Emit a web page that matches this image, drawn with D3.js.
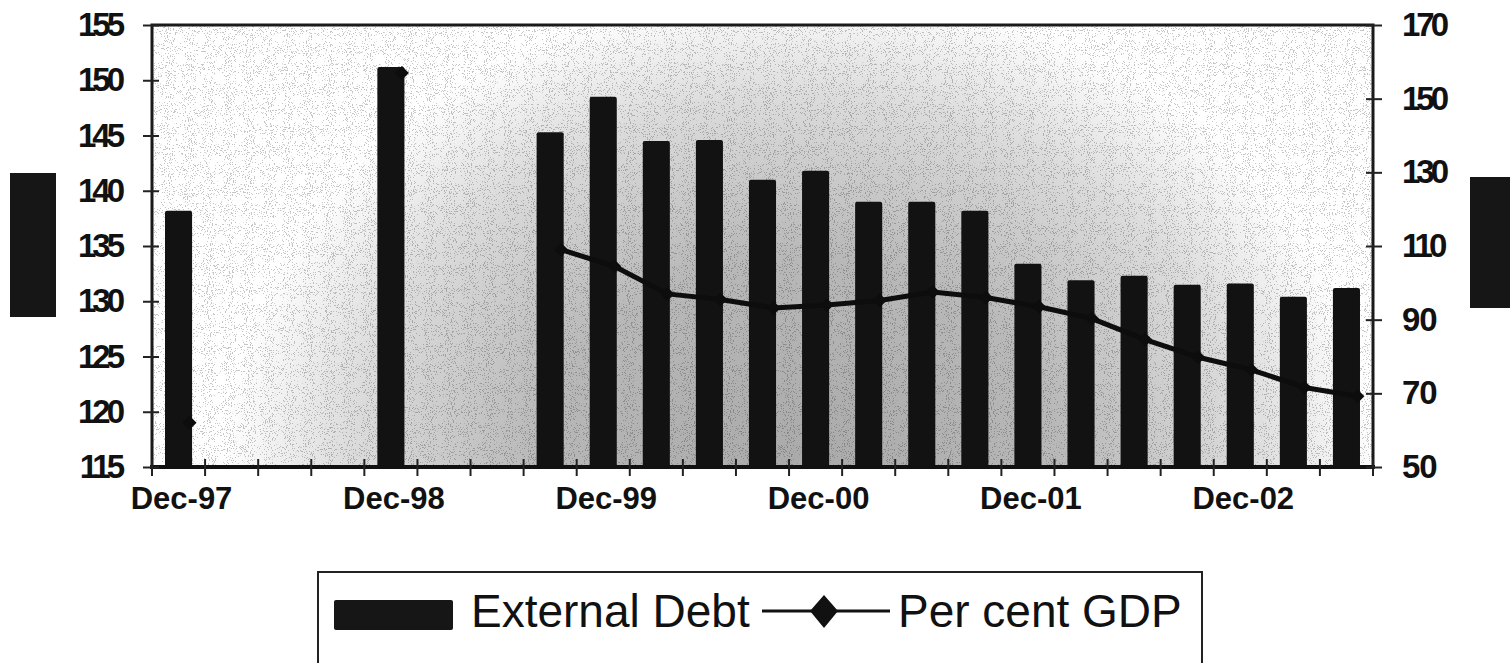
<!DOCTYPE html>
<html>
<head>
<meta charset="utf-8">
<script src="https://cdn.jsdelivr.net/npm/d3@7"></script>
<style>
  html, body { margin: 0; padding: 0; background: #ffffff; }
  svg { display: block; }
  text { font-family: "Liberation Sans", Arial, sans-serif; fill: #111; }
</style>
</head>
<body>
<svg id="chart" width="1510" height="663"></svg>
<script>
// ---- data ----
const categories = ["Dec-97","Mar-98","Jun-98","Sep-98","Dec-98","Mar-99","Jun-99","Sep-99","Dec-99",
  "Mar-00","Jun-00","Sep-00","Dec-00","Mar-01","Jun-01","Sep-01","Dec-01",
  "Mar-02","Jun-02","Sep-02","Dec-02","Mar-03","Jun-03"];
const externalDebt = [138.2, null, null, null, 151.2, null, null, 145.3, 148.5,
  144.5, 144.6, 141.0, 141.8, 139.0, 139.0, 138.2, 133.4,
  131.9, 132.3, 131.5, 131.6, 130.4, 131.2];
const perCentGDP = [62, null, null, null, 157, null, null, 109.0, 104.5,
  97.0, 95.5, 93.2, 94.0, 95.2, 97.5, 96.0, 93.5,
  90.3, 84.6, 79.8, 76.4, 71.6, 69.2];
const xTickLabels = ["Dec-97","Dec-98","Dec-99","Dec-00","Dec-01","Dec-02"];
const leftTicks = [115,120,125,130,135,140,145,150,155];
const rightTicks = [50,70,90,110,130,150,170];
const seriesNames = ["External Debt","Per cent GDP"];

// ---- layout ----
const svg = d3.select("#chart");
const L = 152, R = 1373, T = 25, B = 467;

const x = d3.scaleBand().domain(categories).range([L, R]).paddingInner(0.49).paddingOuter(0.245);
const yL = d3.scaleLinear().domain([115, 155]).range([B, T]);
const yR = d3.scaleLinear().domain([50, 170]).range([B, T]);
const step = x.step(), bw = x.bandwidth(), gap = (step - bw) / 2;

const defs = svg.append("defs");
const rg = defs.append("radialGradient").attr("id", "bg")
  .attr("gradientUnits", "userSpaceOnUse").attr("cx", 800).attr("cy", 480).attr("r", 580)
  .attr("gradientTransform", "translate(800,480) scale(1,0.85) translate(-800,-480)");
rg.append("stop").attr("offset", "0%").attr("stop-color", "#a9a9a9");
rg.append("stop").attr("offset", "45%").attr("stop-color", "#b8b8b8");
rg.append("stop").attr("offset", "78%").attr("stop-color", "#dcdcdc");
rg.append("stop").attr("offset", "100%").attr("stop-color", "#ffffff");

const f = defs.append("filter").attr("id", "noise").attr("x", 0).attr("y", 0).attr("width", "100%").attr("height", "100%");
f.append("feTurbulence").attr("type", "fractalNoise").attr("baseFrequency", 0.95).attr("numOctaves", 2).attr("seed", 4);
f.append("feColorMatrix").attr("type", "matrix")
  .attr("values", "0 0 0 0 0  0 0 0 0 0  0 0 0 0 0  -30 0 0 0 11.5");

// plot background
svg.append("rect").attr("x", L).attr("y", T).attr("width", R - L).attr("height", B - T).attr("fill", "url(#bg)");
svg.append("rect").attr("x", L).attr("y", T).attr("width", R - L).attr("height", B - T)
  .attr("filter", "url(#noise)").attr("opacity", 0.22);

// bars
svg.append("g").selectAll("rect").data(categories.map((c, i) => ({c, v: externalDebt[i]})).filter(d => d.v != null))
  .join("rect")
  .attr("x", d => x(d.c)).attr("y", d => yL(d.v))
  .attr("width", bw).attr("height", d => yL(115) - yL(d.v))
  .attr("rx", 2).attr("fill", "#121212");

// line
const pts = categories.map((c, i) => ({c, v: perCentGDP[i]}));
const px = d => x(d.c) + bw / 2 + 11;
const line = d3.line().defined(d => d.v != null).x(px).y(d => yR(d.v));
svg.append("path").datum(pts).attr("d", line).attr("fill", "none")
  .attr("stroke", "#0d0d0d").attr("stroke-width", 5).attr("stroke-linejoin", "round");
const dm = 7;
svg.append("g").selectAll("path").data(pts.filter(d => d.v != null)).join("path")
  .attr("d", d => { const cx = px(d), cy = yR(d.v); return `M${cx},${cy - dm}L${cx + dm},${cy}L${cx},${cy + dm}L${cx - dm},${cy}Z`; })
  .attr("fill", "#0d0d0d");

// frame
svg.append("rect").attr("x", L).attr("y", T).attr("width", R - L).attr("height", B - T)
  .attr("fill", "none").attr("stroke", "#1a1a1a").attr("stroke-width", 3);
svg.append("line").attr("x1", L - 2).attr("x2", R + 2).attr("y1", B).attr("y2", B)
  .attr("stroke", "#111").attr("stroke-width", 4);

function tickLabel(sel) {
  sel.attr("font-size", 33).attr("font-weight", "bold")
    .attr("font-family", "Liberation Sans, Arial, sans-serif").attr("fill", "#111")
    .attr("letter-spacing", d => String(d)[0] === "1" ? -4 : -1);
}

// left axis
const gl = svg.append("g").attr("transform", `translate(${L},0)`)
  .call(d3.axisLeft(yL).tickValues(leftTicks).tickSize(9).tickPadding(22));
gl.select(".domain").remove();
gl.selectAll(".tick line").attr("x1", 7).attr("stroke", "#222").attr("stroke-width", 2);
gl.selectAll(".tick text").call(tickLabel);

// right axis
const gr = svg.append("g").attr("transform", `translate(${R},0)`)
  .call(d3.axisRight(yR).tickValues(rightTicks).tickSize(9).tickPadding(20));
gr.select(".domain").remove();
gr.selectAll(".tick line").attr("x1", -7).attr("stroke", "#222").attr("stroke-width", 2);
gr.selectAll(".tick text").call(tickLabel);

// x axis ticks at category boundaries
const bounds = categories.map(c => x(c) - gap).concat([x(categories[categories.length - 1]) + bw + gap]);
svg.append("g").selectAll("line").data(bounds).join("line")
  .attr("x1", d => d).attr("x2", d => d).attr("y1", B - 8).attr("y2", B + 9)
  .attr("stroke", "#222").attr("stroke-width", 2);
svg.append("g").selectAll("text").data(xTickLabels).join("text")
  .attr("x", d => x(d) + bw / 2 + 3).attr("y", 509)
  .attr("text-anchor", "middle").attr("font-size", 31).attr("font-weight", "bold").text(d => d);

// redacted axis-title boxes
svg.append("rect").attr("x", 10).attr("y", 173).attr("width", 46).attr("height", 144).attr("fill", "#161616");
svg.append("rect").attr("x", 1470).attr("y", 177).attr("width", 42).attr("height", 131).attr("fill", "#161616");

// legend
const lg = svg.append("g");
lg.append("rect").attr("x", 318).attr("y", 572).attr("width", 884).attr("height", 130)
  .attr("fill", "#fff").attr("stroke", "#222").attr("stroke-width", 2);
lg.append("rect").attr("x", 334).attr("y", 600).attr("width", 119).attr("height", 30).attr("rx", 2).attr("fill", "#161616");
lg.append("text").attr("x", 471).attr("y", 627).attr("font-size", 46).text(seriesNames[0]);
lg.append("line").attr("x1", 762).attr("x2", 890).attr("y1", 611).attr("y2", 611).attr("stroke", "#111").attr("stroke-width", 3);
lg.append("path").attr("d", "M824,595L838,611L824,628L810,611Z").attr("fill", "#111");
lg.append("text").attr("x", 898).attr("y", 627).attr("font-size", 46).text(seriesNames[1]);
</script>
</body>
</html>
